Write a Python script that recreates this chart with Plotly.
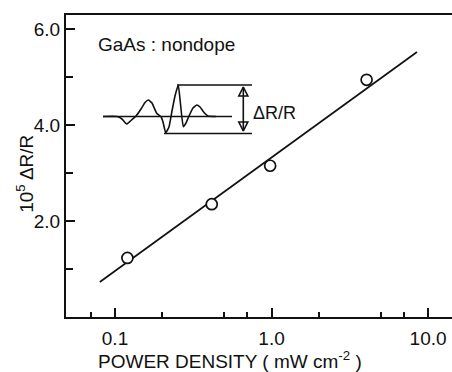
import plotly.graph_objects as go

# measured data (power density in mW cm^-2, 10^5 dR/R)
power = [0.12, 0.415, 0.98, 4.05]
signal = [1.23, 2.35, 3.15, 4.94]

# fitted straight line (on log-x)
fit_x = [0.08, 8.5]
fit_y = [0.73, 5.52]

# axis ticks
x_tickvals = [0.1, 1, 10]
x_ticktext = ["0.1", "1.0", "10.0"]
x_minor = [0.07, 0.2, 0.5, 0.7, 2, 5, 7]
y_tickvals = [2, 4, 6]
y_ticktext = ["2.0", "4.0", "6.0"]
y_minor = [1, 3, 5]

x_title = "POWER DENSITY ( mW cm<sup>-2</sup> )"
y_title = "10<sup>5</sup> ΔR/R"

# inset schematic (drawn in inset frame units)
wave_x = [103, 117, 122, 126.7, 131, 136, 141, 145, 148.3, 152, 156.7, 161, 163, 165.7,
          169, 172, 175, 178.3, 180.5, 183.3, 186, 189, 193, 196.7, 200, 204, 208, 216]
wave_y = [116.5, 116.5, 119, 124, 120.5, 116, 109, 102.5, 100, 103, 113.3, 116.7, 122, 132.7,
          127, 111, 96, 85, 104, 126.7, 123, 116, 108, 105, 107, 112.5, 116, 116.5]
base_x = [103, 232]
base_y = [116.5, 116.5]
top_x = [177, 252]
top_y = [85, 85]
bot_x = [164, 252]
bot_y = [133.5, 133.5]
arrow_x = [243.3, 243.3]
arrow_y = [131, 87]

FONT = "Liberation Sans"
BLACK = "#111111"

fig = go.Figure()
fig.add_trace(go.Scatter(x=fit_x, y=fit_y, mode="lines",
                         line=dict(color=BLACK, width=1.7), showlegend=False))
fig.add_trace(go.Scatter(x=power, y=signal, mode="markers",
                         marker=dict(symbol="circle", size=11, color="white",
                                     line=dict(color=BLACK, width=1.7)),
                         showlegend=False))

for xs, ys in [(base_x, base_y), (top_x, top_y), (bot_x, bot_y)]:
    fig.add_trace(go.Scatter(x=xs, y=ys, mode="lines", xaxis="x2", yaxis="y2",
                             line=dict(color=BLACK, width=1.6), showlegend=False))
fig.add_trace(go.Scatter(x=wave_x, y=wave_y, mode="lines", xaxis="x2", yaxis="y2",
                         line=dict(color=BLACK, width=1.6, shape="spline", smoothing=0.4),
                         showlegend=False))
# double-headed arrow
fig.add_trace(go.Scatter(x=arrow_x, y=arrow_y, mode="lines", xaxis="x2", yaxis="y2",
                         line=dict(color=BLACK, width=1.6), showlegend=False))
fig.add_trace(go.Scatter(x=arrow_x, y=arrow_y, mode="markers", xaxis="x2", yaxis="y2",
                         marker=dict(symbol=["arrow-down-open", "arrow-up-open"], size=9,
                                     color=BLACK, line=dict(color=BLACK, width=1.6)),
                         showlegend=False))

fig.add_annotation(xref="x2", yref="y2", x=251, y=113, text="ΔR/R", showarrow=False,
                   xanchor="left", yanchor="middle", font=dict(family=FONT, size=18, color=BLACK))
fig.add_annotation(xref="x2", yref="y2", x=96, y=44, text="GaAs : nondope", showarrow=False,
                   xanchor="left", yanchor="middle", font=dict(family=FONT, size=19, color=BLACK))
# axis titles (paper coordinates, outside the plot area)
fig.add_annotation(xref="paper", yref="paper", x=0.425, y=-0.142, text=x_title, showarrow=False,
                   xanchor="center", yanchor="middle", font=dict(family=FONT, size=19, color=BLACK))
fig.add_annotation(xref="paper", yref="paper", x=-0.108, y=0.475, text=y_title, showarrow=False,
                   textangle=-90, xanchor="center", yanchor="middle",
                   font=dict(family=FONT, size=19, color=BLACK))

fig.update_layout(
    width=452, height=372,
    margin=dict(l=66, r=0, t=15, b=55),
    paper_bgcolor="white", plot_bgcolor="white",
    font=dict(family=FONT, size=19, color=BLACK),
    xaxis=dict(type="log", range=[-1.313, 1.153],
               tickvals=x_tickvals, ticktext=x_ticktext,
               ticks="inside", ticklen=9, tickwidth=1.5, tickcolor=BLACK,
               ticklabelstandoff=3,
               minor=dict(tickvals=x_minor, ticks="inside", ticklen=5, tickwidth=1.5, tickcolor=BLACK),
               showline=True, linewidth=2, linecolor=BLACK, mirror=True,
               showgrid=False, zeroline=False),
    yaxis=dict(range=[0, 6.29],
               tickvals=y_tickvals, ticktext=y_ticktext,
               ticks="inside", ticklen=9, tickwidth=1.5, tickcolor=BLACK,
               ticklabelstandoff=0,
               minor=dict(tickvals=y_minor, ticks="inside", ticklen=7, tickwidth=1.5, tickcolor=BLACK),
               showline=True, linewidth=2, linecolor=BLACK,
               showgrid=False, zeroline=False),
    xaxis2=dict(overlaying="x", range=[66, 452], visible=False),
    yaxis2=dict(overlaying="y", range=[317, 15], visible=False),
)

fig.write_html("out.html")
